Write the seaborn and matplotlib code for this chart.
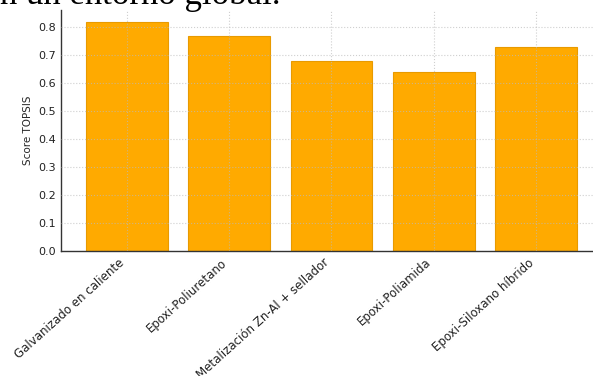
import matplotlib
matplotlib.use("Agg")
import matplotlib.pyplot as plt
import seaborn as sns
import pandas as pd

# ──────────────────────────────────────────────
# Data
# ──────────────────────────────────────────────
sistemas = [
    "Galvanizado en caliente",
    "Epoxi-Poliuretano",
    "Metalización Zn-Al + sellador",
    "Epoxi-Poliamida",
    "Epoxi-Siloxano híbrido",
]
scores = [0.82, 0.77, 0.68, 0.64, 0.73]
y_ticks = [0.0, 0.1, 0.2, 0.3, 0.4, 0.5, 0.6, 0.7, 0.8]

df = pd.DataFrame({"Sistema": sistemas, "Score": scores})

sns.set_style("white")
plt.rcParams["font.family"] = ["DejaVu Sans"]

fig = plt.figure(figsize=(5.93, 3.76), dpi=100)
ax = fig.add_axes([0.103, 0.332, 0.912, 0.641])

sns.barplot(
    data=df, x="Sistema", y="Score", color="#FFAA00", saturation=1,
    width=0.8, edgecolor="#E89A00", linewidth=0.8, ax=ax,
)

ax.set_xlim(-0.64, 4.64)
ax.set_ylim(0, 0.861)
ax.set_yticks(y_ticks)
ax.set_yticklabels([f"{t:.1f}" for t in y_ticks])
ax.grid(True, color="#bbbbbb", linestyle=":", linewidth=0.8, alpha=0.7)
ax.set_axisbelow(False)
ax.tick_params(direction="in", length=3, labelsize=8, colors="#222222")
ax.set_xticks(range(len(sistemas)))
ax.set_xticklabels(sistemas, rotation=42, ha="right", fontsize=8.5)
ax.set_xlabel("")
ax.set_ylabel("Score TOPSIS", fontsize=7.5)
for side in ["top", "right"]:
    ax.spines[side].set_visible(False)
for side in ["left", "bottom"]:
    ax.spines[side].set_color("#333333")
    ax.spines[side].set_linewidth(1.0)

# text of the page above the chart (cut off in the screenshot)
fig.text(0.0, 1 - 4.5 / 376, "n un entorno global.", family="Liberation Serif",
         fontsize=25, va="baseline", ha="left", color="black")

fig.savefig("out.png", dpi=100)
